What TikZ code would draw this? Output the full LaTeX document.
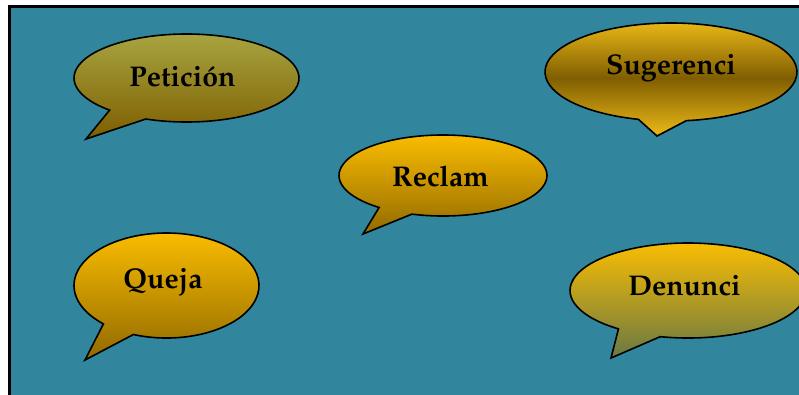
\documentclass[tikz,border=0pt]{standalone}
\usepackage[T1]{fontenc}
\renewcommand{\rmdefault}{ppl}
\definecolor{bgteal}{RGB}{49,133,156}
\definecolor{petTop}{RGB}{170,168,68}
\definecolor{petBot}{RGB}{125,94,0}
\definecolor{gold}{RGB}{255,192,0}
\definecolor{sugTop}{RGB}{236,186,22}
\definecolor{sugMid}{RGB}{128,94,2}
\definecolor{brownBot}{RGB}{145,106,0}
\definecolor{denBot}{RGB}{105,120,68}
\begin{document}
\begin{tikzpicture}[x=1pt,y=-1pt,
  bubble/.style={draw=black,line width=1.6pt,line join=miter},
  lbl/.style={font=\fontsize{28.5}{34}\selectfont\bfseries,anchor=base,inner sep=0pt}]
\useasboundingbox (0,0) rectangle (799,394);
\clip (0,0) rectangle (799,394);
\fill[white] (0,0) rectangle (799,394);
\fill[bgteal] (9,6) rectangle (801,396);
\draw[line width=3pt] (9.5,396) -- (9.5,6.5) -- (801,6.5);

% Peticion
\coordinate (pc) at (186.5,78);
\coordinate (ptip) at (86,139);
\path[bubble,top color=petTop,bottom color=petBot]
  (pc) ++(111.2:112.5 and 44)
  arc[start angle=111.2,end angle=-226.9,x radius=112.5,y radius=44]
  -- (ptip) -- cycle;
\node[lbl] (tpet) at (182.5,86) {Petici\'on};

% Sugerenci
\coordinate (sc) at (671,72);
\coordinate (stip) at (657,136);
\path[bubble,top color=sugTop,bottom color=sugTop,middle color=sugMid]
  (sc) ++(83:126 and 49)
  arc[start angle=83,end angle=-255,x radius=126,y radius=49]
  -- (stip) -- cycle;
\node[lbl] (tsug) at (671,74) {Sugerenci};

% Reclam
\coordinate (rc) at (443,175.5);
\coordinate (rtip) at (363,234);
\path[bubble,top color=gold,bottom color=brownBot]
  (rc) ++(107.4:104 and 40.5)
  arc[start angle=107.4,end angle=-232.1,x radius=104,y radius=40.5]
  -- (rtip) -- cycle;
\node[lbl] (trec) at (440.5,186) {Reclam};

% Queja
\coordinate (qc) at (166.5,285.5);
\coordinate (qtip) at (85,360);
\path[bubble,top color=gold,bottom color=brownBot]
  (qc) ++(111:92.5 and 52.5)
  arc[start angle=111,end angle=-227,x radius=92.5,y radius=52.5]
  -- (qtip) -- cycle;
\node[lbl] (tque) at (163,288) {Queja};

% Denunci
\coordinate (dc) at (688,290.5);
\coordinate (dtip) at (611,358);
\path[bubble,top color=gold,bottom color=denBot]
  (dc) ++(103.6:118 and 47.5)
  arc[start angle=103.6,end angle=-233.9,x radius=118,y radius=47.5]
  -- (dtip) -- cycle;
\node[lbl] (tden) at (684.5,295) {Denunci};
\end{tikzpicture}
\end{document}
